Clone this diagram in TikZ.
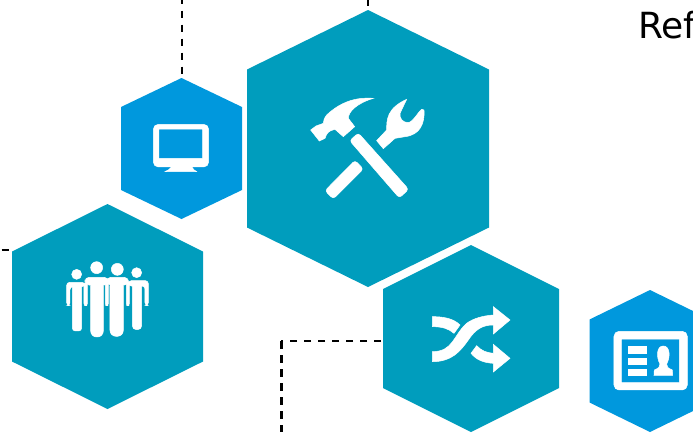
\documentclass[tikz,border=0pt]{standalone}
\usepackage{fontspec}
\setmainfont{DejaVu Sans}
\definecolor{tealhex}{HTML}{009DBD}
\definecolor{bluehex}{HTML}{0098DD}
\tikzset{
  conn/.style={draw=black,line width=2.4pt,dash pattern=on 7.5pt off 6.5pt},
  icon/.style={fill=white,draw=white,line width=0.5pt},
  hexnode/.style={inner sep=0pt,outer sep=0pt,draw=none,rectangle},
}
% name, centre x, centre y, half width, half height, shoulder offset from centre, colour
\newcommand{\hexa}[7]{%
  \fill[#7] (#2,#3-#5) -- (#2+#4,#3-#6) -- (#2+#4,#3+#6) -- (#2,#3+#5) -- (#2-#4,#3+#6) -- (#2-#4,#3-#6) -- cycle;
  \node[hexnode,minimum width=#4*2pt,minimum height=#5*2pt] (#1) at (#2,#3) {};
}
\begin{document}
\begin{tikzpicture}[x=1pt,y=-1pt]
\useasboundingbox (0,0) rectangle (693,432);
\clip (0,0) rectangle (693,432);
\fill[white] (0,0) rectangle (693,432);
\hexa{big}{368}{148.5}{121}{138.5}{79}{tealhex}
\hexa{monitor}{181.5}{148.5}{60.5}{70.5}{41.5}{bluehex}
\hexa{people}{107.5}{306.5}{95.5}{102.5}{55}{tealhex}
\hexa{shuffle}{471}{338.5}{88}{93.5}{49.5}{tealhex}
\hexa{card}{650}{361}{60.5}{71}{41.5}{bluehex}
% connectors
\coordinate (topa) at (181.7,0);
\coordinate (topb) at (368,0);
\coordinate (lefta) at (1.5,249.7);
\coordinate (leftb) at (12,249.7);
\coordinate (bot) at (281.3,432);
\coordinate (corner) at (281.3,341);
\draw[conn,dash phase=3.3pt] (topa) -- (topa |- monitor.north);
\draw[conn,dash phase=1.5pt] (topb) -- (big.north);
\draw[conn] (lefta) -- (leftb);
\draw[conn] (corner) -- (bot);
\draw[conn,dash phase=12pt] (shuffle.west |- corner) -- (corner);
% text
\node[anchor=base west,inner sep=0pt,font=\fontsize{36}{36}\selectfont,text=black] (reftext) at (638,38.5) {Ref};
% hammer and wrench icon: coordinates from 3x crop at (280,70)
\begin{scope}[shift={(280,70)},x=0.3333pt,y=-0.3333pt]
\fill[icon] (280,85) .. controls (240,82) and (190,88) .. (140,135) .. controls (132,145) and (130,155) .. (130,160) -- (108,168) -- (92,180) -- (118,213) -- (135,205) .. controls (140,190) and (145,182) .. (165,178) -- (190,200) -- (224,170) -- (205,145) .. controls (205,125) and (230,100) .. (280,85) -- cycle;
\fill[icon,rounded corners=3pt] (235,189) -- (209,212) -- (358,384) -- (386,358) -- cycle;
\fill[icon,rounded corners=3pt] (135,362) -- (225,271) -- (250,297) -- (160,387) -- cycle;
\fill[icon] (290,212) -- (320,180) .. controls (320,150) and (320,115) .. (380,88) -- (360,130) .. controls (358,145) and (368,158) .. (385,158) .. controls (400,155) and (415,125) .. (425,118) -- (432,120) .. controls (435,160) and (420,195) .. (375,200) -- (345,205) -- (310,236) -- cycle;
\end{scope}
% people icon: 3x crop at (40,240)
\begin{scope}[shift={(40,240)},x=0.3333pt,y=-0.3333pt]
\fill[icon] (110,103) circle[radius=15];
\fill[icon] (170,83) circle[radius=18];
\fill[icon] (232,88) circle[radius=18];
\fill[icon] (290,98) circle[radius=15];
% left
\fill[icon,rounded corners=3pt] (80,197) -- (80,127) -- (135,127) -- (135,140) -- (90,140) -- (90,197) -- cycle;
\fill[icon,rounded corners=3pt] (97,130) rectangle (125,273);
\fill[icon,rounded corners=2pt] (132,130) rectangle (142,197);
% centre left
\fill[icon,rounded corners=4pt] (135,135) -- (135,112) -- (205,112) -- (205,135) -- cycle;
\fill[icon,rounded corners=6pt] (152,120) rectangle (190,291);
\fill[icon,rounded corners=2pt] (196,125) rectangle (205,197);
% centre right
\fill[icon,rounded corners=4pt] (200,135) -- (200,112) -- (265,112) -- (265,135) -- cycle;
\fill[icon,rounded corners=6pt] (210,120) rectangle (250,289);
\fill[icon,rounded corners=2pt] (259,125) rectangle (268,197);
% right
\fill[icon,rounded corners=3pt] (265,122) -- (325,122) -- (325,197) -- (315,197) -- (315,138) -- (265,138) -- cycle;
\fill[icon,rounded corners=4pt] (277,125) rectangle (305,269);
\end{scope}
% shuffle icon: 3x crop at (410,290)
\begin{scope}[shift={(410,290)},x=0.3333pt,y=-0.3333pt]
\fill[icon] (67,80) .. controls (100,80) and (130,85) .. (150,105) -- (132,130) .. controls (115,115) and (95,110) .. (67,110) -- cycle;
\fill[icon] (67,185) .. controls (130,185) and (130,135) .. (170,100) .. controls (190,85) and (220,77) .. (250,75) -- (250,50) -- (300,90) -- (250,132) -- (250,105) .. controls (215,105) and (195,120) .. (175,150) .. controls (150,185) and (125,215) .. (67,215) -- cycle;
\fill[icon] (200,167) .. controls (215,183) and (230,188) .. (250,190) -- (250,163) -- (300,205) -- (250,246) -- (250,220) .. controls (220,218) and (200,210) .. (183,190) -- cycle;
\end{scope}
% ID card icon: 3x crop at (410,290)
\begin{scope}[shift={(410,290)},x=0.3333pt,y=-0.3333pt]
\fill[icon,rounded corners=5pt,even odd rule] (612,124) rectangle (832,300) [sharp corners] (634,147) rectangle (808,278);
\fill[icon] (654,170) rectangle (708,190);
\fill[icon] (654,204) rectangle (708,222);
\fill[icon] (654,237) rectangle (708,256);
\fill[icon] (732,256) -- (733,240) .. controls (745,235) and (752,230) .. (750,222) .. controls (738,200) and (740,168) .. (760,168) .. controls (780,168) and (782,200) .. (770,222) .. controls (768,230) and (775,235) .. (787,240) -- (788,256) -- cycle;
\end{scope}
% monitor icon: 3x crop at (130,100)
\begin{scope}[shift={(130,100)},x=0.3333pt,y=-0.3333pt]
\fill[icon,rounded corners=5pt,even odd rule] (70,73) rectangle (236,201) [sharp corners] (87,87) rectangle (218,175);
\fill[icon] (125,200) -- (185,200) .. controls (187,207) and (195,212) .. (200,215) -- (105,215) .. controls (112,212) and (122,207) .. (125,200) -- cycle;
\end{scope}
\end{tikzpicture}
\end{document}
